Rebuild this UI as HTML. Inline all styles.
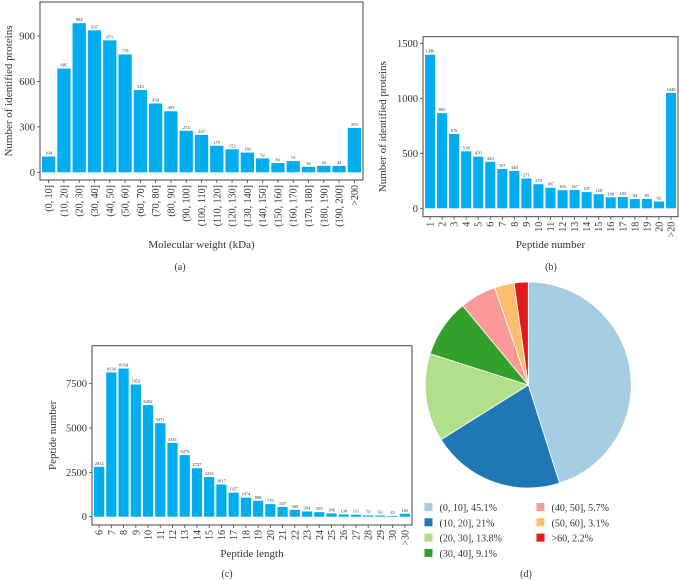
<!DOCTYPE html>
<html><head><meta charset="utf-8"><style>
body{margin:0;background:#fff}
svg{display:block;font-family:"Liberation Serif",serif}
</style></head><body>
<svg id="fig" width="679" height="580" xmlns="http://www.w3.org/2000/svg"></svg>
<script>
const aCats=["(0, 10]","(10, 20]","(20, 30]","(30, 40]","(40, 50]","(50, 60]","(60, 70]","(70, 80]","(80, 90]","(90, 100]","(100, 110]","(110, 120]","(120, 130]","(130, 140]","(140, 150]","(150, 160]","(160, 170]","(170, 180]","(180, 190]","(190, 200]",">200"];
const aVals=[104,685,984,937,871,778,543,454,403,274,247,175,152,130,92,61,74,36,43,42,293];
const aTicks=[0,300,600,900];
const bCats=["1","2","3","4","5","6","7","8","9","10","11","12","13","14","15","16","17","18","19","20",">20"];
const bVals=[1396,865,676,518,470,423,357,340,271,219,187,165,167,147,128,100,103,84,85,62,1049];
const bTicks=[0,500,1000,1500];
const cCats=["6","7","8","9","10","11","12","13","14","15","16","17","18","19","20","21","22","23","24","25","26","27","28","29","30",">30"];
const cVals=[2812,8136,8354,7453,6292,5271,4161,3475,2737,2235,1817,1357,1074,898,710,547,389,294,255,186,130,111,70,63,45,165];
const cTicks=[0,2500,5000,7500];
const pieLabels=["(0, 10]","(10, 20]","(20, 30]","(30, 40]","(40, 50]","(50, 60]",">60"];
const pieVals=[45.1,21,13.8,9.1,5.7,3.1,2.2];
const pieColors=["#a6cee3","#1f78b4","#b2df8a","#33a02c","#fb9a99","#fdbf6f","#e31a1c"];

const NS="http://www.w3.org/2000/svg";
const fig=document.getElementById('fig');
function mk(tag,attrs,parent,txt){const e=document.createElementNS(NS,tag);for(const k in attrs)e.setAttribute(k,attrs[k]);if(txt!==undefined)e.textContent=txt;(parent||fig).appendChild(e);return e;}

function barChart(id,cats,vals,ticks,box,ymax,xTitle,yTitle,cap,capPos,yTitleX,xTitleY){
  const g=mk('g',{});
  
  
  const [L,T,R,B,Z]=box; // left, top, right, bottom, zero-line y
  const y=v=>Z-(v/ymax)*(Z-T);
  const pitch=(R-L-2)/cats.length;
  const x=i=>L+1+i*pitch;
  vals.forEach((v,i)=>{
    const r=mk('rect',{x:x(i)+1,y:y(v),width:pitch-2,height:Z-y(v),fill:'#00aeef'},g);
    
    
    const t=mk('text',{x:x(i)+pitch/2,y:y(v)-2,'font-size':4.5,'text-anchor':'middle',fill:'#333'},g,String(v));
    
    
    const lx=x(i)+pitch/2;
    mk('line',{x1:lx,y1:B,x2:lx,y2:B+3,stroke:'#444','stroke-width':0.8},g);
    const tl=mk('text',{x:lx+3.5,y:B+5,'font-size':10,'text-anchor':'end',fill:'#333',transform:`rotate(-90 ${lx+3.5} ${B+5})`},g,cats[i]);
    
    
  });
  ticks.forEach(tk=>{
    mk('line',{x1:L-3,y1:y(tk),x2:L,y2:y(tk),stroke:'#444','stroke-width':0.8},g);
    const t=mk('text',{x:L-5,y:y(tk)+3.5,'font-size':10.5,'text-anchor':'end',fill:'#333'},g,String(tk));
    
    
  });
  const fr=mk('rect',{x:L,y:T,width:R-L,height:B-T,fill:'none',stroke:'#444','stroke-width':1},g);
  
  
  const xt=mk('text',{x:(L+R)/2,y:xTitleY,'font-size':11,'text-anchor':'middle',fill:'#333'},g,xTitle);
  
  
  const yc=(T+B)/2;
  const yt=mk('text',{x:yTitleX,y:yc,'font-size':11,'text-anchor':'middle',fill:'#333',transform:`rotate(-90 ${yTitleX} ${yc})`},g,yTitle);
  
  
  const cp=mk('text',{x:capPos[0],y:capPos[1],'font-size':10,'text-anchor':'middle',fill:'#333'},g,cap);
  
  
}

barChart('panel-a',aCats,aVals,aTicks,[40,2,363,180,172.3],1124,'Molecular weight (kDa)','Number of identified proteins','(a)',[180,270],12,248);
barChart('panel-b',bCats,bVals,bTicks,[423,36.7,678,216.7,208.3],1560,'Peptide number','Number of identified proteins','(b)',[551,270],386,248);
barChart('panel-c',cCats,cVals,cTicks,[92,345.7,412,525,516.7],9643,'Peptide length','Peptide number','(c)',[227,577],56,557);

// pie
const cx=528.3,cy=385,r=103;
const pg=mk('g',{});


const total=pieVals.reduce((a,b)=>a+b,0);
let ang=0;
pieVals.forEach((v,i)=>{
  const a0=ang,a1=ang+v/total*2*Math.PI;ang=a1;
  const p=a=>[cx+r*Math.sin(a),cy-r*Math.cos(a)];
  const [x0,y0]=p(a0),[x1,y1]=p(a1);
  const s=mk('path',{d:`M${cx},${cy}L${x0},${y0}A${r},${r} 0 ${a1-a0>Math.PI?1:0} 1 ${x1},${y1}Z`,fill:pieColors[i],stroke:'#fff','stroke-width':0.8},pg);
  
  
  const col=i<4?0:1,row=i<4?i:i-4;
  const lx=col?536.5:424.5,ly=503+row*15.3;
  const sq=mk('rect',{x:lx,y:ly,width:8,height:8,fill:pieColors[i]},pg);
  
  
  const lt=mk('text',{x:lx+15,y:ly+8,'font-size':10,fill:'#333'},pg,pieLabels[i]+', '+v+'%');
  
  
});
const dc=mk('text',{x:526,y:577,'font-size':10,'text-anchor':'middle',fill:'#333'},pg,'(d)');


</script>
</body></html>
